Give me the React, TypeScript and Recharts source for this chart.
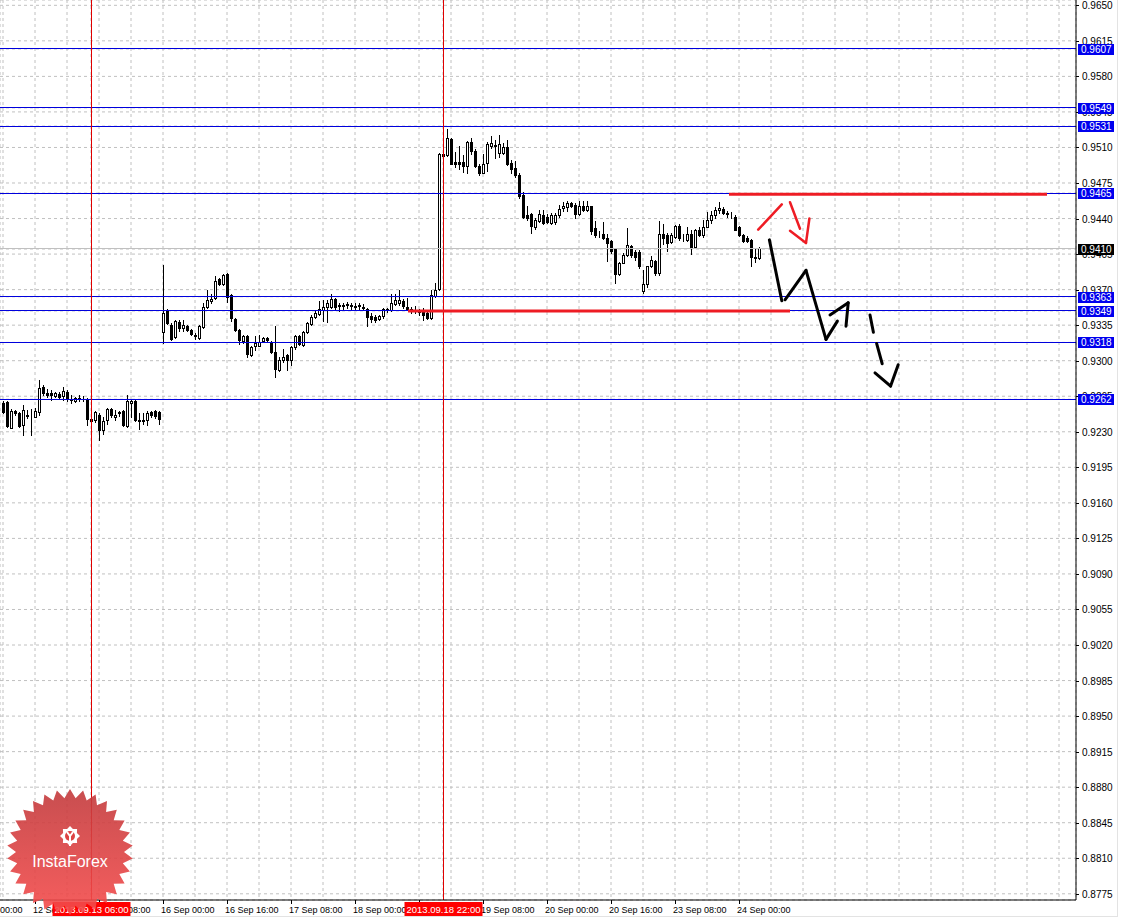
import React from 'react';
import { ComposedChart, Bar, XAxis, YAxis, CartesianGrid, ReferenceLine } from 'recharts';

// ---- data: H1 candles, hour index counted in trading hours from 12 Sep 2013 00:00 ----
const firstHour = 8;
const opens = [
  0.9258, 0.9259, 0.9234, 0.9250, 0.9248, 0.9237, 0.9247, 0.9247, 0.9245, 0.9249,
  0.9274, 0.9268, 0.9268, 0.9265, 0.9267, 0.9265, 0.9269, 0.9262, 0.9260, 0.9263,
  0.9262, 0.9262, 0.9243, 0.9242, 0.9247, 0.9232, 0.9242, 0.9252, 0.9245, 0.9249,
  0.9250, 0.9236, 0.9258, 0.9260, 0.9242, 0.9242, 0.9242, 0.9249, 0.9250, 0.9249,
  0.9328, 0.9349, 0.9335, 0.9323, 0.9338, 0.9332, 0.9334, 0.9330, 0.9325, 0.9322,
  0.9333, 0.9353, 0.9359, 0.9362, 0.9380, 0.9376, 0.9385, 0.9365, 0.9341, 0.9330,
  0.9319, 0.9324, 0.9306, 0.9314, 0.9314, 0.9319, 0.9322, 0.9318, 0.9309, 0.9291,
  0.9301, 0.9306, 0.9301, 0.9313, 0.9324, 0.9315, 0.9328, 0.9336, 0.9343, 0.9346,
  0.9350, 0.9353, 0.9353, 0.9361, 0.9355, 0.9354, 0.9356, 0.9355, 0.9354, 0.9355,
  0.9353, 0.9351, 0.9344, 0.9343, 0.9341, 0.9344, 0.9350, 0.9350, 0.9356, 0.9357,
  0.9359, 0.9353, 0.9351, 0.9350, 0.9349, 0.9349, 0.9347, 0.9342, 0.9364, 0.9371,
  0.9504, 0.9503, 0.9518, 0.9496, 0.9496, 0.9496, 0.9492, 0.9515, 0.9507, 0.9492,
  0.9485, 0.9495, 0.9511, 0.9512, 0.9505, 0.9505, 0.9510, 0.9495, 0.9490, 0.9483,
  0.9463, 0.9443, 0.9444, 0.9432, 0.9438, 0.9443, 0.9442, 0.9436, 0.9437, 0.9443,
  0.9450, 0.9451, 0.9455, 0.9453, 0.9444, 0.9452, 0.9448, 0.9452, 0.9431, 0.9425,
  0.9425, 0.9421, 0.9418, 0.9410, 0.9385, 0.9396, 0.9404, 0.9413, 0.9407, 0.9407,
  0.9369, 0.9376, 0.9393, 0.9398, 0.9386, 0.9425, 0.9424, 0.9417, 0.9422, 0.9433,
  0.9420, 0.9419, 0.9425, 0.9412, 0.9429, 0.9424, 0.9432, 0.9439, 0.9443, 0.9448,
  0.9449, 0.9445, 0.9443, 0.9442, 0.9432, 0.9424, 0.9421, 0.9419, 0.9402, 0.9401,
];
const highs = [
  0.9260, 0.9260, 0.9252, 0.9251, 0.9249, 0.9256, 0.9251, 0.9252, 0.9253, 0.9281,
  0.9276, 0.9272, 0.9271, 0.9269, 0.9269, 0.9274, 0.9271, 0.9266, 0.9264, 0.9266,
  0.9265, 0.9263, 0.9244, 0.9250, 0.9248, 0.9245, 0.9253, 0.9253, 0.9251, 0.9250,
  0.9251, 0.9266, 0.9262, 0.9261, 0.9248, 0.9248, 0.9250, 0.9250, 0.9251, 0.9250,
  0.9394, 0.9351, 0.9337, 0.9340, 0.9340, 0.9340, 0.9335, 0.9331, 0.9327, 0.9335,
  0.9357, 0.9370, 0.9366, 0.9383, 0.9381, 0.9385, 0.9386, 0.9366, 0.9342, 0.9331,
  0.9325, 0.9325, 0.9314, 0.9324, 0.9325, 0.9323, 0.9323, 0.9319, 0.9334, 0.9304,
  0.9312, 0.9307, 0.9314, 0.9325, 0.9325, 0.9329, 0.9338, 0.9345, 0.9350, 0.9359,
  0.9360, 0.9360, 0.9366, 0.9362, 0.9357, 0.9357, 0.9358, 0.9357, 0.9357, 0.9357,
  0.9356, 0.9352, 0.9347, 0.9345, 0.9345, 0.9352, 0.9352, 0.9366, 0.9366, 0.9370,
  0.9361, 0.9362, 0.9353, 0.9354, 0.9351, 0.9352, 0.9348, 0.9370, 0.9377, 0.9505,
  0.9506, 0.9528, 0.9519, 0.9506, 0.9511, 0.9503, 0.9516, 0.9519, 0.9508, 0.9494,
  0.9504, 0.9515, 0.9521, 0.9517, 0.9522, 0.9514, 0.9517, 0.9498, 0.9497, 0.9485,
  0.9466, 0.9452, 0.9445, 0.9441, 0.9448, 0.9448, 0.9444, 0.9445, 0.9445, 0.9453,
  0.9456, 0.9457, 0.9456, 0.9455, 0.9457, 0.9457, 0.9457, 0.9452, 0.9438, 0.9428,
  0.9437, 0.9425, 0.9419, 0.9411, 0.9397, 0.9406, 0.9431, 0.9414, 0.9409, 0.9409,
  0.9389, 0.9393, 0.9403, 0.9399, 0.9438, 0.9435, 0.9426, 0.9426, 0.9434, 0.9435,
  0.9425, 0.9432, 0.9429, 0.9430, 0.9432, 0.9439, 0.9446, 0.9447, 0.9451, 0.9456,
  0.9451, 0.9447, 0.9446, 0.9443, 0.9433, 0.9425, 0.9423, 0.9420, 0.9411, 0.9412,
];
const lows = [
  0.9248, 0.9235, 0.9234, 0.9247, 0.9235, 0.9227, 0.9244, 0.9227, 0.9245, 0.9247,
  0.9266, 0.9264, 0.9261, 0.9264, 0.9263, 0.9261, 0.9260, 0.9258, 0.9259, 0.9260,
  0.9260, 0.9237, 0.9240, 0.9240, 0.9222, 0.9228, 0.9238, 0.9245, 0.9242, 0.9246,
  0.9236, 0.9235, 0.9245, 0.9241, 0.9233, 0.9238, 0.9237, 0.9245, 0.9244, 0.9238,
  0.9317, 0.9336, 0.9320, 0.9322, 0.9329, 0.9329, 0.9329, 0.9325, 0.9321, 0.9321,
  0.9332, 0.9352, 0.9357, 0.9361, 0.9375, 0.9375, 0.9358, 0.9339, 0.9329, 0.9316,
  0.9317, 0.9304, 0.9305, 0.9311, 0.9314, 0.9318, 0.9318, 0.9308, 0.9284, 0.9290,
  0.9299, 0.9291, 0.9296, 0.9312, 0.9315, 0.9314, 0.9327, 0.9335, 0.9342, 0.9345,
  0.9339, 0.9338, 0.9352, 0.9350, 0.9349, 0.9350, 0.9352, 0.9350, 0.9350, 0.9351,
  0.9350, 0.9334, 0.9338, 0.9338, 0.9340, 0.9342, 0.9348, 0.9349, 0.9355, 0.9355,
  0.9352, 0.9350, 0.9347, 0.9347, 0.9345, 0.9340, 0.9341, 0.9341, 0.9363, 0.9370,
  0.9500, 0.9502, 0.9494, 0.9491, 0.9489, 0.9486, 0.9485, 0.9504, 0.9491, 0.9483,
  0.9485, 0.9487, 0.9509, 0.9500, 0.9501, 0.9504, 0.9493, 0.9485, 0.9481, 0.9460,
  0.9441, 0.9439, 0.9426, 0.9430, 0.9437, 0.9435, 0.9436, 0.9435, 0.9435, 0.9442,
  0.9447, 0.9447, 0.9451, 0.9441, 0.9443, 0.9447, 0.9447, 0.9425, 0.9422, 0.9422,
  0.9420, 0.9398, 0.9406, 0.9377, 0.9384, 0.9396, 0.9403, 0.9402, 0.9399, 0.9391,
  0.9367, 0.9373, 0.9392, 0.9384, 0.9384, 0.9415, 0.9408, 0.9416, 0.9421, 0.9419,
  0.9418, 0.9418, 0.9405, 0.9411, 0.9423, 0.9422, 0.9432, 0.9436, 0.9441, 0.9445,
  0.9444, 0.9442, 0.9441, 0.9429, 0.9423, 0.9417, 0.9417, 0.9393, 0.9397, 0.9400,
];
const closes = [
  0.9249, 0.9236, 0.9250, 0.9248, 0.9236, 0.9251, 0.9246, 0.9247, 0.9250, 0.9273,
  0.9268, 0.9266, 0.9266, 0.9268, 0.9264, 0.9270, 0.9263, 0.9261, 0.9263, 0.9262,
  0.9262, 0.9243, 0.9241, 0.9249, 0.9232, 0.9241, 0.9252, 0.9247, 0.9247, 0.9248,
  0.9237, 0.9260, 0.9260, 0.9242, 0.9241, 0.9241, 0.9248, 0.9247, 0.9246, 0.9243,
  0.9347, 0.9337, 0.9321, 0.9339, 0.9332, 0.9335, 0.9330, 0.9326, 0.9324, 0.9334,
  0.9353, 0.9360, 0.9361, 0.9378, 0.9376, 0.9384, 0.9363, 0.9342, 0.9330, 0.9320,
  0.9324, 0.9307, 0.9313, 0.9317, 0.9318, 0.9322, 0.9320, 0.9309, 0.9292, 0.9301,
  0.9304, 0.9301, 0.9313, 0.9324, 0.9316, 0.9328, 0.9337, 0.9343, 0.9347, 0.9351,
  0.9353, 0.9357, 0.9361, 0.9353, 0.9354, 0.9355, 0.9355, 0.9354, 0.9353, 0.9354,
  0.9352, 0.9343, 0.9341, 0.9340, 0.9344, 0.9351, 0.9351, 0.9357, 0.9360, 0.9360,
  0.9354, 0.9351, 0.9350, 0.9350, 0.9348, 0.9345, 0.9342, 0.9365, 0.9370, 0.9504,
  0.9502, 0.9519, 0.9494, 0.9494, 0.9494, 0.9492, 0.9515, 0.9507, 0.9492, 0.9485,
  0.9494, 0.9513, 0.9514, 0.9511, 0.9513, 0.9510, 0.9494, 0.9489, 0.9483, 0.9462,
  0.9442, 0.9441, 0.9433, 0.9439, 0.9444, 0.9436, 0.9437, 0.9443, 0.9443, 0.9449,
  0.9452, 0.9455, 0.9452, 0.9444, 0.9452, 0.9448, 0.9452, 0.9428, 0.9424, 0.9425,
  0.9421, 0.9416, 0.9408, 0.9385, 0.9396, 0.9404, 0.9414, 0.9404, 0.9402, 0.9393,
  0.9376, 0.9393, 0.9399, 0.9386, 0.9425, 0.9421, 0.9416, 0.9424, 0.9433, 0.9421,
  0.9420, 0.9425, 0.9411, 0.9429, 0.9424, 0.9432, 0.9439, 0.9443, 0.9448, 0.9450,
  0.9445, 0.9444, 0.9443, 0.9429, 0.9424, 0.9418, 0.9418, 0.9402, 0.9401, 0.9411,
];

// price axis ticks
const priceTicks = [
  0.8775, 0.8810, 0.8845, 0.8880, 0.8915, 0.8950, 0.8985, 0.9020, 0.9055, 0.9090,
  0.9125, 0.9160, 0.9195, 0.9230, 0.9265, 0.9300, 0.9335, 0.9370, 0.9405, 0.9440,
  0.9475, 0.9510, 0.9545, 0.9580, 0.9615, 0.9650,
];
// time axis labels
const timeLabelHours = [0, 16, 32, 48, 64, 80, 96, 112, 128, 144, 160, 176, 192];
const timeLabels = [
  '12 Sep 00:00', '12 Sep 16:00', '13 Sep 08:00', '16 Sep 00:00', '16 Sep 16:00',
  '17 Sep 08:00', '18 Sep 00:00', '18 Sep 16:00', '19 Sep 08:00', '20 Sep 00:00',
  '20 Sep 16:00', '23 Sep 08:00', '24 Sep 00:00',
];
const gridHours = Array.from({ length: 35 }, (_, i) => i * 8);

// horizontal levels (blue), bid line, vertical markers
const levelPrices = [0.9607, 0.9549, 0.9531, 0.9465, 0.9363, 0.9349, 0.9318, 0.9262];
const bidPrice = 0.941;
const markerHours = [30, 118];
const markerLabels = ['2013.09.13 06:00', '2013.09.18 22:00'];

// hand-drawn analysis lines: [hour, price]
const redLevels = [
  { from: 189.5, to: 269, price: 0.9464 },
  { from: 109.25, to: 204.75, price: 0.9349 },
];
const redArrows = [
  [[196.8, 0.9429], [202.7, 0.9454]],
  [[204.75, 0.9456], [207.25, 0.9430]],
  [[204.75, 0.9428], [208.75, 0.9416], [209.6, 0.9440]],
];
const blackPaths = [
  [[199.6, 0.9419], [202.7, 0.9359]],
  [[203.5, 0.9360], [208.75, 0.9389], [213.75, 0.9321], [216.6, 0.9339]],
  [[214.75, 0.9345], [219.3, 0.9357], [218.75, 0.9334]],
  [[224.75, 0.9345], [225.6, 0.9328]],
  [[226.4, 0.9317], [227.8, 0.9297]],
  [[226.0, 0.9288], [229.9, 0.9275], [231.8, 0.9296]],
];

const rows = opens.map((o, i) => ({
  t: firstHour + i,
  o,
  hi: highs[i],
  lo: lows[i],
  c: closes[i],
  range: [lows[i], highs[i]],
}));

const FONT = '"Liberation Sans", Arial, sans-serif';
const BLUE = '#0000dd';
const TAG_BLUE = '#0000ee';
const RED = '#ee1c24';
const MARK_RED = '#e00000';

const Candle = (props: any) => {
  const { x, y, width, height, payload } = props;
  if (payload == null || x == null) return null;
  const cx = Math.round(x + width / 2);
  const top = Math.min(y, y + height);
  const bot = Math.max(y, y + height);
  const span = payload.hi - payload.lo;
  const yOf = (v: number) => (span > 0 ? top + ((payload.hi - v) / span) * (bot - top) : top);
  const yo = yOf(payload.o);
  const yc = yOf(payload.c);
  const bull = payload.c >= payload.o;
  const bt = Math.round(Math.min(yo, yc));
  const bb = Math.round(Math.max(yo, yc));
  return (
    <g>
      <line x1={cx + 0.5} x2={cx + 0.5} y1={Math.round(top)} y2={Math.round(bot) + 1} stroke="#000" strokeWidth={1} />
      <rect x={cx - 0.5} y={bt + 0.5} width={2} height={Math.max(bb - bt, 0)} fill={bull ? '#fff' : '#000'} stroke="#000" strokeWidth={1} />
    </g>
  );
};

// crisp 1px reference line
const CrispLine = (props: any) => {
  const { x1, y1, x2, y2, stroke } = props;
  if (x1 == null) return null;
  if (Math.abs(y1 - y2) < 0.01) {
    const yy = Math.floor(y1) + 0.5;
    return <line x1={x1} x2={x2} y1={yy} y2={yy} stroke={stroke} strokeWidth={1} />;
  }
  const xx = Math.floor(x1) + 0.5;
  return <line x1={xx} x2={xx} y1={y1} y2={y2} stroke={stroke} strokeWidth={1} />;
};

const TimeTick = (props: any) => {
  const { x, y, payload } = props;
  const m = markerHours.indexOf(payload.value);
  if (m >= 0) {
    const cx = Math.floor(x) + 0.5;
    return (
      <g>
        <rect x={cx - 39} y={y - 2} width={78} height={14} fill="#ff0000" />
        <text x={cx} y={y + 9} textAnchor="middle" fill="#fff" fontSize={9.5} fontFamily={FONT}>{markerLabels[m]}</text>
      </g>
    );
  }
  const idx = timeLabelHours.indexOf(payload.value);
  if (idx < 0) return null;
  return (
    <g>
      <line x1={x + 0.5} x2={x + 0.5} y1={y - 4} y2={y} stroke="#000" />
      <text x={x - 2} y={y + 9} fontSize={9} fontFamily={FONT} fill="#000">{timeLabels[idx]}</text>
    </g>
  );
};

const PriceTick = (props: any) => {
  const { x, y, payload } = props;
  const v = payload.value;
  const cy = Math.round(y);
  const isLevel = levelPrices.indexOf(v) >= 0;
  if (isLevel || v === bidPrice) {
    return (
      <g>
        <rect x={x + 2} y={cy - 5} width={36} height={11} fill={isLevel ? TAG_BLUE : '#000'} />
        <text x={x + 5} y={cy + 4} fill="#fff" fontSize={10} fontFamily={FONT}>{Number(v).toFixed(4)}</text>
      </g>
    );
  }
  return (
    <g>
      <line x1={x} x2={x + 3} y1={cy + 0.5} y2={cy + 0.5} stroke="#000" />
      <text x={x + 6} y={cy + 4} fontSize={10} fontFamily={FONT} fill="#000">{Number(v).toFixed(4)}</text>
    </g>
  );
};

const segs = (paths: number[][][]) => {
  const out: { a: number[]; b: number[] }[] = [];
  paths.forEach((p) => {
    for (let i = 0; i < p.length - 1; i++) out.push({ a: p[i], b: p[i + 1] });
  });
  return out;
};

const Logo = () => {
  const cx = 70;
  const cy = 852;
  const n = 30;
  const pts: string[] = [];
  for (let i = 0; i < n * 2; i++) {
    const r = i % 2 === 0 ? 63 : 54;
    const a = (Math.PI * i) / n - Math.PI / 2;
    pts.push(`${(cx + r * Math.cos(a)).toFixed(1)},${(cy + r * Math.sin(a)).toFixed(1)}`);
  }
  const gear: string[] = [];
  for (let i = 0; i < 16; i++) {
    const r = i % 2 === 0 ? 10 : 7.5;
    const a = (Math.PI * i) / 8;
    gear.push(`${(cx + r * Math.cos(a)).toFixed(1)},${(836 + r * Math.sin(a)).toFixed(1)}`);
  }
  return (
    <svg width={1124} height={919} style={{ position: 'absolute', left: 0, top: 0, pointerEvents: 'none' }}>
      <defs>
        <linearGradient id="lg" x1="0" y1="0" x2="0" y2="1">
          <stop offset="0" stopColor="#c23a3c" />
          <stop offset="1" stopColor="#f64c4c" />
        </linearGradient>
      </defs>
      <polygon points={pts.join(' ')} fill="url(#lg)" opacity={0.9} />
      <polygon points={gear.join(' ')} fill="#fff" />
      <circle cx={cx} cy={836} r={5} fill="#d44" />
      <path d={`M ${cx - 3} 832 L ${cx} 836 L ${cx + 3} 832 M ${cx} 836 L ${cx} 846`} stroke="#fff" strokeWidth={2} fill="none" />
      <text x={cx} y={867} textAnchor="middle" fill="#fff" fontSize={16} fontFamily={FONT}>InstaForex</text>
      <line x1={1117.5} x2={1117.5} y1={0} y2={916} stroke="#e3e3e3" />
      <line x1={0} x2={1118} y1={916.5} y2={916.5} stroke="#e3e3e3" />
    </svg>
  );
};

export default function App() {
  return (
    <div style={{ position: 'absolute', left: 0, top: 0, width: 1124, height: 919, background: '#fff' }}>
      <ComposedChart width={1124} height={919} data={rows} margin={{ top: 0, right: 0, bottom: 0, left: 0 }}>
        <CartesianGrid stroke="#c0c0c0" strokeDasharray="3 3" />
        <XAxis
          dataKey="t"
          type="number"
          domain={[7.25, 276.25]}
          allowDataOverflow
          ticks={[...gridHours, ...markerHours]}
          interval={0}
          height={19}
          tickLine={false}
          tickSize={4}
          tickMargin={0}
          axisLine={{ stroke: '#000' }}
          tick={<TimeTick />}
        />
        <YAxis
          orientation="right"
          type="number"
          domain={[0.876888, 0.965522]}
          allowDataOverflow
          ticks={[...priceTicks, bidPrice, ...levelPrices]}
          interval={0}
          width={48}
          tickLine={false}
          tickSize={0}
          tickMargin={0}
          axisLine={{ stroke: '#000' }}
          tick={<PriceTick />}
        />
        <ReferenceLine y={bidPrice} stroke="#c0c0c0" shape={<CrispLine />} />
        {levelPrices.map((p) => (
          <ReferenceLine key={p} y={p} stroke={BLUE} shape={<CrispLine />} />
        ))}
        {markerHours.map((h) => (
          <ReferenceLine key={h} x={h} stroke={MARK_RED} shape={<CrispLine />} />
        ))}
        <Bar dataKey="range" shape={<Candle />} isAnimationActive={false} barSize={3} />
        {redLevels.map((l, i) => (
          <ReferenceLine key={'rl' + i} segment={[{ x: l.from, y: l.price }, { x: l.to, y: l.price }]} stroke={RED} strokeWidth={3} />
        ))}
        {segs(redArrows).map((s, i) => (
          <ReferenceLine key={'ra' + i} segment={[{ x: s.a[0], y: s.a[1] }, { x: s.b[0], y: s.b[1] }]} stroke={RED} strokeWidth={2.5} strokeLinecap="round" />
        ))}
        {segs(blackPaths).map((s, i) => (
          <ReferenceLine key={'bp' + i} segment={[{ x: s.a[0], y: s.a[1] }, { x: s.b[0], y: s.b[1] }]} stroke="#000" strokeWidth={3} strokeLinecap="round" />
        ))}
      </ComposedChart>
      <Logo />
    </div>
  );
}
